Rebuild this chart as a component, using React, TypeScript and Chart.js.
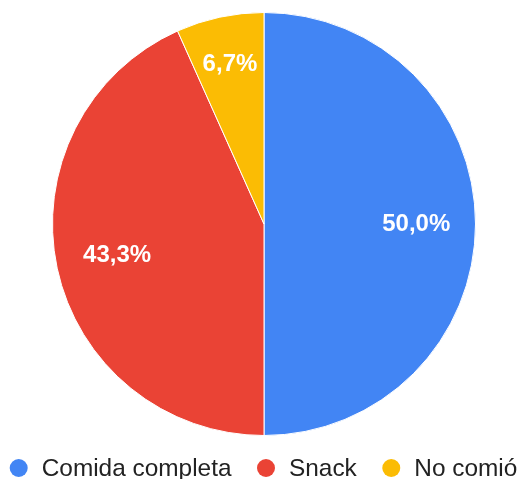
import React, { useEffect, useRef } from "react";
import { Chart, registerables } from "chart.js";

Chart.register(...registerables);

const categories = ["Comida completa", "Snack", "No comió"];
const values = [50.0, 43.3, 6.7];
const valueLabels = ["50,0%", "43,3%", "6,7%"];
const colors = ["#4285F4", "#EA4335", "#FBBC04"];

const FONT = "'Liberation Sans', Arial, sans-serif";

const labelPlugin = {
  id: "sliceLabels",
  afterDatasetsDraw(chart: any) {
    const ctx = chart.ctx;
    const meta = chart.getDatasetMeta(0);
    const factors = [0.72, 0.71, 0.77];
    ctx.save();
    ctx.font = `bold 24px ${FONT}`;
    ctx.fillStyle = "#ffffff";
    ctx.textAlign = "center";
    ctx.textBaseline = "middle";
    meta.data.forEach((arc: any, i: number) => {
      const mid = (arc.startAngle + arc.endAngle) / 2;
      const r = arc.outerRadius * factors[i];
      ctx.fillText(valueLabels[i], arc.x + Math.cos(mid) * r, arc.y + Math.sin(mid) * r);
    });
    ctx.restore();
  },
};

const legendPlugin = {
  id: "customLegend",
  afterDraw(chart: any) {
    const ctx = chart.ctx;
    ctx.save();
    ctx.font = `24.4px ${FONT}`;
    const dotR = 9;
    const centerToText = 23;
    const textToNextCenter = 34.5;
    const widths = categories.map((c) => ctx.measureText(c).width);
    const total =
      dotR + centerToText * categories.length + widths.reduce((a, w) => a + w, 0) + textToNextCenter * (categories.length - 1);
    let cx = (chart.width - total) / 2 + 2.5 + dotR;
    const y = 468;
    categories.forEach((c, i) => {
      ctx.fillStyle = colors[i];
      ctx.beginPath();
      ctx.arc(cx, y, dotR, 0, Math.PI * 2);
      ctx.fill();
      ctx.fillStyle = "#222222";
      ctx.textAlign = "left";
      ctx.textBaseline = "middle";
      ctx.fillText(c, cx + centerToText, y + 1);
      cx += centerToText + widths[i] + textToNextCenter;
    });
    ctx.restore();
  },
};

export default function App() {
  const ref = useRef<HTMLCanvasElement>(null);
  useEffect(() => {
    if (!ref.current) return;
    const chart = new Chart(ref.current, {
      type: "pie",
      data: {
        labels: categories,
        datasets: [
          {
            data: values,
            backgroundColor: colors,
            borderColor: "#ffffff",
            borderWidth: 1,
          },
        ],
      },
      options: {
        responsive: false,
        animation: false,
        layout: { padding: { top: 12, bottom: 43, left: 6, right: 0 } },
        plugins: {
          legend: { display: false },
          tooltip: { enabled: false },
        },
      },
      plugins: [labelPlugin, legendPlugin],
    });
    return () => chart.destroy();
  }, []);
  return (
    <div style={{ position: "absolute", left: 0, top: 0, width: 522, height: 479, background: "#fff" }}>
      <canvas ref={ref} width={522} height={479} />
    </div>
  );
}
